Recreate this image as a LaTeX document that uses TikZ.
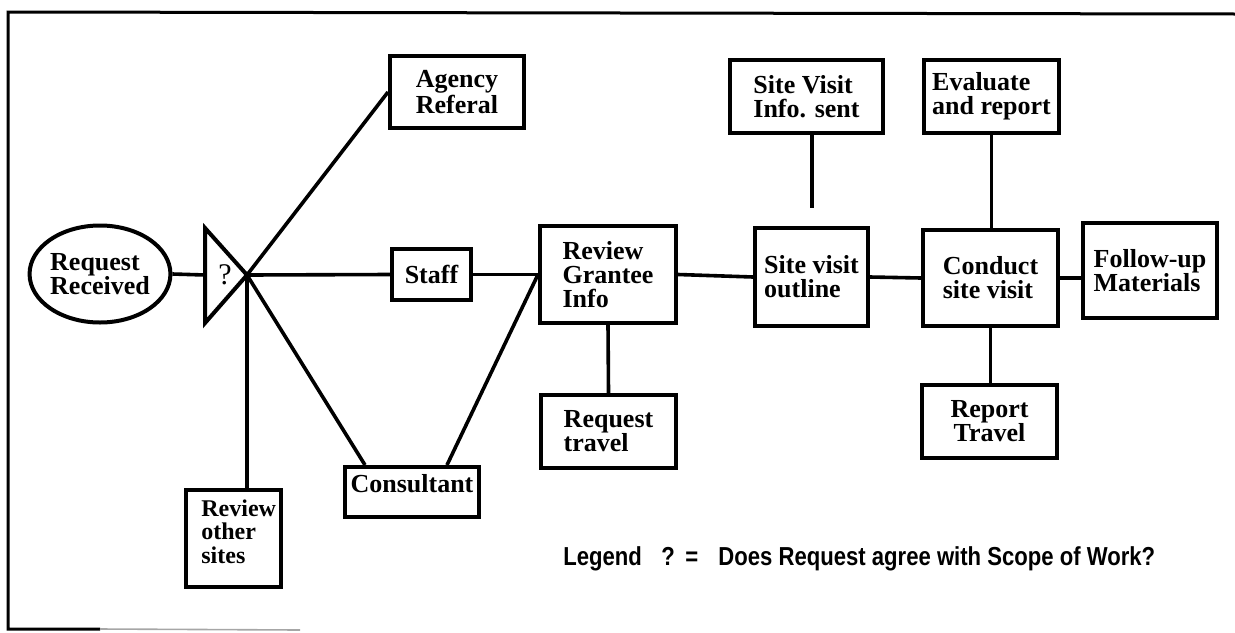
\documentclass[tikz,border=0pt]{standalone}
\usepackage{fontspec}
\setmainfont{Liberation Serif}
\newfontfamily\legendfont[FakeStretch=0.85]{Liberation Sans}
\usetikzlibrary{shapes.geometric,calc}
\begin{document}
\begin{tikzpicture}[x=0.5pt,y=-0.5pt,
  box/.style={draw,line width=2pt,inner sep=0pt,align=left,
    font=\bfseries\fontsize{13}{12}\selectfont},
  lbl/.style={inner sep=0pt,align=left,font=\bfseries\fontsize{12}{11.8}\selectfont},
  conn/.style={line width=1.8pt},
  frame/.style={line width=1.5pt},
  legend/.style={inner sep=0pt,anchor=base west,font=\legendfont\bfseries\fontsize{13}{14}\selectfont}]
\useasboundingbox (0,0) rectangle (1235,632);
% frame
\coordinate (f1) at (1235,14);
\coordinate (f2) at (8,12);
\coordinate (f3) at (8,629);
\coordinate (f4) at (100,629);
\coordinate (f5) at (300,630);
\draw[frame] (f1) -- (f2) -- (f3) -- (f4);
\draw[line width=0.8pt,black!35] (f4) -- (f5);
% start ellipse
\node[ellipse,draw,line width=2pt,minimum width=66pt,minimum height=48.5pt,inner sep=0pt,
  align=left,font=\bfseries\fontsize{13}{12}\selectfont] (rr) at (100,274) {Request\\Received};
% decision triangle
\coordinate (t1) at (205,228);
\coordinate (t2) at (205,323);
\coordinate (q) at (247,275);
\coordinate (tl) at (205,275);
\draw[line width=2pt,line join=miter] (t1) -- (q) -- (t2) -- cycle;
\node[inner sep=0pt,font=\fontsize{15}{15}\selectfont] (qm) at (225,275) {?};
% boxes
\node[box,minimum width=67pt,minimum height=36pt] (agency) at (457,92) {Agency\\Referal};
\node[box,minimum width=39.5pt,minimum height=25.5pt] (staff) at (431.5,274.5) {Staff};
\node[box,minimum width=47.5pt,minimum height=48.5pt] (other) at (233.5,538.5) {};
\node[lbl,anchor=north west] (otherT) at (201,499) {Review\\other\\sites};
\node[box,minimum width=67pt,minimum height=25pt] (cons) at (412,492) {};
\node[inner sep=0pt,anchor=north,font=\bfseries\fontsize{13}{12}\selectfont] (consT) at (412,474) {Consultant};
\node[box,minimum width=68pt,minimum height=48.5pt] (rg) at (608,274.5) {Review\\Grantee\\Info};
\node[box,minimum width=67.5pt,minimum height=36.5pt] (rt) at (608.5,431.5) {Request\\travel};
\node[box,minimum width=76.5pt,minimum height=36.5pt] (svi) at (806.5,96.5) {Site Visit\\Info. sent};
\node[box,minimum width=56.5pt,minimum height=49pt] (svo) at (811.5,277) {Site visit\\outline};
\node[box,minimum width=67.5pt,minimum height=36.5pt] (eval) at (991.5,96.5) {Evaluate\\and report};
\node[box,minimum width=67.5pt,minimum height=48pt] (csv) at (990.5,278) {Conduct\\site visit};
\node[box,minimum width=67pt,minimum height=47.5pt] (fu) at (1150,270.5) {Follow-up\\Materials};
\node[box,align=center,minimum width=67.5pt,minimum height=36.5pt] (rpt) at (989.5,421.5) {Report\\Travel};
% connectors
\draw[conn] (rr.east) -- (tl);
\draw[conn] (q) -- (agency.west);
\draw[conn] (q) -- (staff.west);
\draw[conn] (q) -- (q |- other.north);
\draw[conn] (q) -- ($(cons.north west)+(22,0)$);
\draw[conn] ($(cons.north west)+(104,0)$) -- (rg.west);
\draw[conn] (staff.east) -- (rg.west);
\draw[conn] (rg.south) -- (rt.north);
\draw[conn] (rg.east) -- (svo.west);
\coordinate (svend) at (812,208);
\draw[conn] (svi.south -| svend) -- (svend);
\draw[conn] (svo.east) -- (csv.west);
\draw[conn] (eval.south) -- (eval.south |- csv.north);
\draw[conn] (csv.east) -- (csv.east -| fu.west);
\draw[conn] (csv.south) -- (csv.south |- rpt.north);
% legend
\node[legend] (lg1) at (563,565) {Legend};
\node[legend] (lg2) at (661,565) {?};
\node[legend] (lg3) at (685,565) {=};
\node[legend] (lg4) at (718,565) {Does Request agree with Scope of Work?};
\end{tikzpicture}
\end{document}
